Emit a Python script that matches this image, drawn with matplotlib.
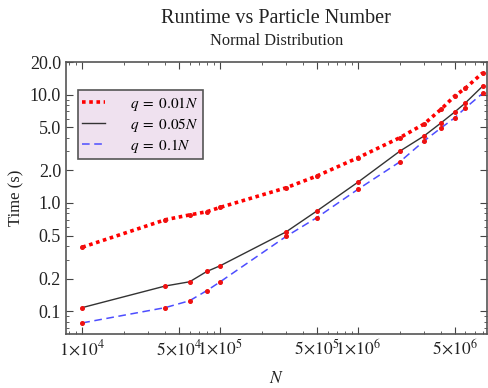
import matplotlib.pyplot as plt
from matplotlib.ticker import FixedLocator, FixedFormatter, LogLocator, NullFormatter

plt.rcParams['font.family'] = ['Liberation Serif', 'DejaVu Serif']
plt.rcParams['mathtext.fontset'] = 'stix'

# particle counts
N = [1e4, 4e4, 6e4, 8e4, 1e5, 3e5, 5e5, 1e6, 2e6, 3e6, 4e6, 5e6, 6e6, 8e6]

# runtimes (s)
t_001 = [0.39, 0.70, 0.775, 0.83, 0.91, 1.38, 1.77, 2.62, 4.0, 5.35, 7.35, 9.7, 11.5, 15.9]
t_005 = [0.108, 0.171, 0.187, 0.233, 0.263, 0.54, 0.84, 1.56, 3.0, 4.15, 5.5, 6.9, 8.4, 12.0]
t_01 = [0.078, 0.108, 0.125, 0.155, 0.187, 0.49, 0.73, 1.34, 2.39, 3.73, 4.94, 6.1, 7.55, 10.3]

labels = [r'$q\;=\;0.01N$', r'$q\;=\;0.05N$', r'$q\;=\;0.1N$']

xticks = [1e4, 5e4, 1e5, 5e5, 1e6, 5e6]
xticklabels = [r'$1\!\times\!10^4$', r'$5\!\times\!10^4$', r'$1\!\times\!10^5$',
               r'$5\!\times\!10^5$', r'$1\!\times\!10^6$', r'$5\!\times\!10^6$']
yticks = [0.1, 0.2, 0.5, 1.0, 2.0, 5.0, 10.0, 20.0]
yticklabels = ['0.1', '0.2', '0.5', '1.0', '2.0', '5.0', '10.0', '20.0']

fig = plt.figure(figsize=(4.88, 3.88), dpi=100)
ax = fig.add_axes([0.135, 0.139, 0.863, 0.701])

ax.plot(N, t_001, color='#ff0000', linestyle=(0, (1, 1)), linewidth=2.6, label=labels[0])
ax.plot(N, t_005, color='#333333', linestyle='-', linewidth=1.0, label=labels[1])
ax.plot(N, t_01, color='#4d4dff', linestyle=(0, (5, 3)), linewidth=1.1, label=labels[2])
for t in (t_001, t_005, t_01):
    ax.plot(N, t, linestyle='None', marker='o', markersize=2.6, color='#ee1111')

ax.set_xscale('log')
ax.set_yscale('log')
ax.set_xlim(7.6e3, 8.6e6)
ax.set_ylim(0.0615, 20)

ax.xaxis.set_major_locator(FixedLocator(xticks))
ax.xaxis.set_major_formatter(FixedFormatter(xticklabels))
ax.xaxis.set_minor_locator(LogLocator(base=10, subs=[2, 3, 4, 6, 7, 8, 9], numticks=20))
ax.xaxis.set_minor_formatter(NullFormatter())
ax.yaxis.set_major_locator(FixedLocator(yticks))
ax.yaxis.set_major_formatter(FixedFormatter(yticklabels))
ax.yaxis.set_minor_locator(LogLocator(base=10, subs=[3, 4, 6, 7, 8, 9], numticks=20))
ax.yaxis.set_minor_formatter(NullFormatter())

ax.tick_params(which='both', direction='in', top=True, right=True, color='#444444',
               labelcolor='#222222')
ax.tick_params(axis='y', labelsize=13)
ax.tick_params(axis='x', labelsize=12.5)
ax.tick_params(which='major', length=5, width=0.8)
ax.tick_params(which='minor', length=2.5, width=0.6)
for s in ax.spines.values():
    s.set_color('#555555')
    s.set_linewidth(1.2)

ax.set_xlabel(r'$N$', fontsize=12.5, color='#222222', labelpad=9)
ax.set_ylabel('Time (s)', fontsize=12, color='#222222', labelpad=4)

fig.text(0.566, 0.952, 'Runtime vs Particle Number', ha='center', va='center',
         fontsize=14.5, color='#222222')
fig.text(0.566, 0.895, 'Normal Distribution', ha='center', va='center',
         fontsize=11.8, color='#222222')

leg = ax.legend(loc='upper left', bbox_to_anchor=(0.028, 0.897), fontsize=11,
                frameon=True, fancybox=False, borderpad=0.3, labelspacing=0.2,
                handlelength=1.5, handletextpad=1.6, borderaxespad=0)
leg.get_frame().set_facecolor('#efe1ef')
leg.get_frame().set_edgecolor('#555555')
leg.get_frame().set_linewidth(1.2)
leg.get_frame().set_alpha(1)

fig.savefig('out.png', dpi=100)
